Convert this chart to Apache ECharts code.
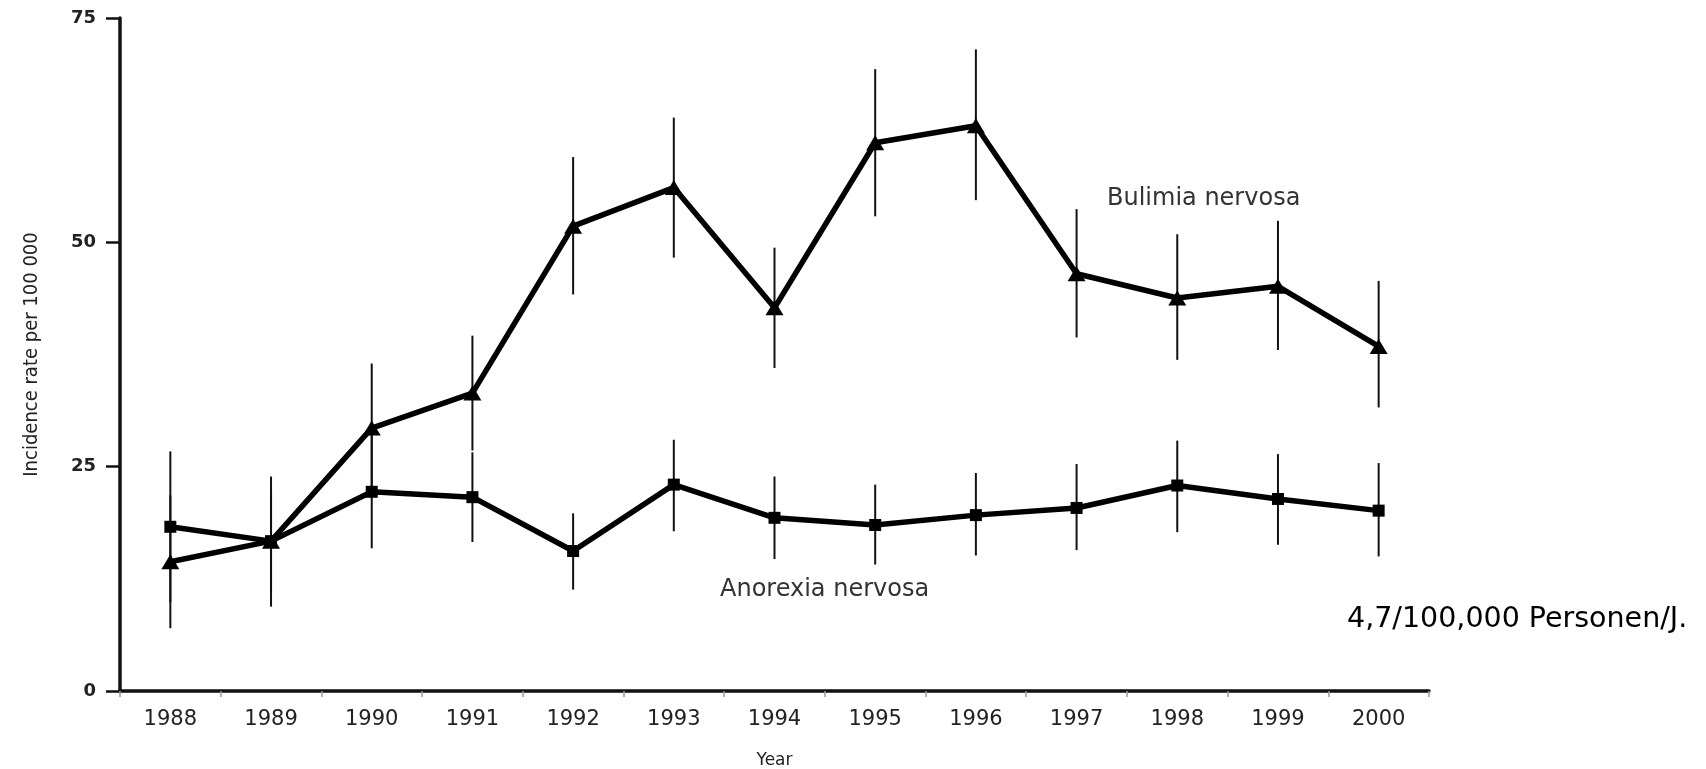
<!DOCTYPE html>
<html>
<head>
<meta charset="utf-8">
<script src="https://cdn.jsdelivr.net/npm/echarts@6/dist/echarts.min.js"></script>
<style>
html,body{margin:0;padding:0;background:#ffffff;}
#chart{width:1706px;height:769px;}
</style>
</head>
<body>
<div id="chart"></div>
<script>
// ---- data ----
const years = ['1988','1989','1990','1991','1992','1993','1994','1995','1996','1997','1998','1999','2000'];
const yTicks = [0, 25, 50, 75];

const bulimia     = [14.4, 16.7, 29.3, 33.2, 51.8, 56.1, 42.7, 61.1, 63.0, 46.5, 43.8, 45.1, 38.4];
const bulimiaLow  = [ 7.0,  9.4, 22.1, 26.8, 44.2, 48.3, 36.0, 52.9, 54.7, 39.4, 36.9, 38.0, 31.6];
const bulimiaHigh = [21.8, 23.9, 36.5, 39.6, 59.5, 63.9, 49.4, 69.3, 71.5, 53.7, 50.9, 52.4, 45.7];

const anorexia     = [18.3, 16.7, 22.2, 21.6, 15.6, 23.0, 19.3, 18.5, 19.6, 20.4, 22.9, 21.4, 20.1];
const anorexiaLow  = [ 9.9, 11.2, 15.9, 16.6, 11.3, 17.8, 14.7, 14.1, 15.1, 15.7, 17.7, 16.3, 15.0];
const anorexiaHigh = [26.7, 22.2, 28.5, 26.6, 19.8, 28.0, 23.9, 23.0, 24.3, 25.3, 27.9, 26.4, 25.4];

const yAxisTitle = 'Incidence rate per 100 000';
const xAxisTitle = 'Year';
const bulimiaName = 'Bulimia nervosa';
const anorexiaName = 'Anorexia nervosa';
const note = '4,7/100,000 Personen/J.';

// ---- chart ----
const chart = echarts.init(document.getElementById('chart'), null, {renderer: 'canvas'});

function errorBar(params, api) {
  const x = api.value(0);
  const lo = api.coord([x, api.value(1)]);
  const hi = api.coord([x, api.value(2)]);
  return {
    type: 'line',
    shape: {x1: lo[0], y1: lo[1], x2: hi[0], y2: hi[1]},
    style: {stroke: '#111', lineWidth: 2}
  };
}

const option = {
  backgroundColor: '#ffffff',
  animation: false,
  grid: {left: 120, right: 277, top: 18, bottom: 78, containLabel: false, outerBoundsMode: 'none'},
  xAxis: {
    type: 'category',
    data: years,
    boundaryGap: true,
    name: xAxisTitle,
    nameLocation: 'middle',
    nameGap: 61,
    nameTextStyle: {fontFamily: 'DejaVu Sans', fontSize: 17, color: '#222'},
    axisLine: {show: true, onZero: false, lineStyle: {color: '#111', width: 3.5}},
    axisTick: {show: true, length: 6, lineStyle: {color: '#999', width: 1.5}},
    axisLabel: {fontFamily: 'DejaVu Sans', fontSize: 21, color: '#222', margin: 18},
    splitLine: {show: false}
  },
  yAxis: {
    type: 'value',
    min: 0, max: 75, interval: 25,
    name: yAxisTitle,
    nameLocation: 'middle',
    nameGap: 78,
    nameRotate: 90,
    nameTextStyle: {fontFamily: 'Liberation Sans Narrow, DejaVu Sans Condensed, sans-serif', fontSize: 20, color: '#222'},
    axisLine: {show: true, lineStyle: {color: '#111', width: 3.5}},
    axisTick: {show: true, length: 14, lineStyle: {color: '#111', width: 2.5}},
    axisLabel: {fontFamily: 'DejaVu Sans', fontWeight: 'bold', fontSize: 18, color: '#222', margin: 24,
      formatter: v => yTicks.indexOf(v) >= 0 ? String(v) : ''},
    splitLine: {show: false}
  },
  series: [
    {
      name: bulimiaName + ' error',
      type: 'custom',
      renderItem: errorBar,
      encode: {x: 0, y: [1, 2]},
      data: years.map((y, i) => [i, bulimiaLow[i], bulimiaHigh[i]]),
      z: 1
    },
    {
      name: anorexiaName + ' error',
      type: 'custom',
      renderItem: errorBar,
      encode: {x: 0, y: [1, 2]},
      data: years.map((y, i) => [i, anorexiaLow[i], anorexiaHigh[i]]),
      z: 1
    },
    {
      name: bulimiaName,
      type: 'line',
      data: bulimia,
      symbol: 'triangle',
      symbolSize: [18, 15],
      showAllSymbol: true,
      itemStyle: {color: '#000'},
      lineStyle: {color: '#000', width: 5.5},
      z: 3
    },
    {
      name: anorexiaName,
      type: 'line',
      data: anorexia,
      symbol: 'rect',
      symbolSize: 12,
      showAllSymbol: true,
      itemStyle: {color: '#000'},
      lineStyle: {color: '#000', width: 5.5},
      z: 3
    }
  ],
  graphic: [
    {type: 'text', left: 1107, top: 187,
      style: {text: bulimiaName, fontFamily: 'DejaVu Sans', fontSize: 24, fill: '#333'}},
    {type: 'text', left: 720, top: 578,
      style: {text: anorexiaName, fontFamily: 'DejaVu Sans', fontSize: 24, fill: '#333'}},
    {type: 'text', left: 1347, top: 605,
      style: {text: note, fontFamily: 'DejaVu Sans', fontSize: 28.5, fill: '#000'}}
  ]
};
chart.setOption(option);
</script>
</body>
</html>
